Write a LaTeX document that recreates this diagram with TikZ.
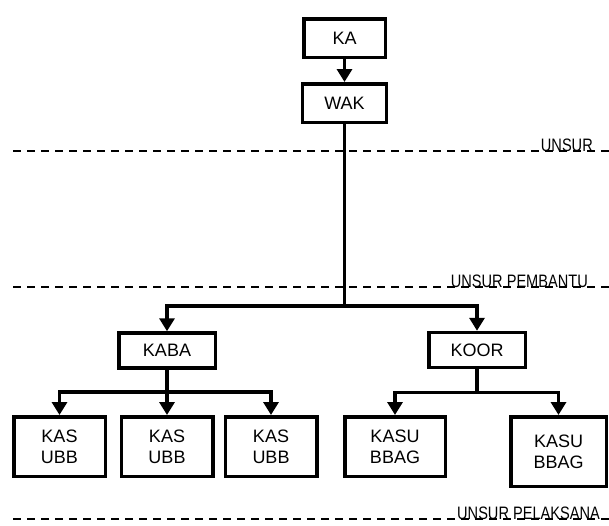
\documentclass[tikz,border=0pt]{standalone}
\usepackage{fontspec}
\usepackage{graphicx}
\usepackage{tikz}
\usetikzlibrary{arrows.meta, positioning}
\setmainfont{Liberation Sans}

\begin{document}
\begin{tikzpicture}[
    x=1pt, y=-1pt,
    unit/.style={draw=black, line width=3.5pt, inner sep=0pt, align=center,
        font=\fontsize{18}{21}\selectfont},
    small/.style={unit, minimum width=84pt, minimum height=38.5pt},
    mid/.style={unit, minimum width=96.5pt, minimum height=35pt},
    low/.style={unit, minimum width=91.5pt, minimum height=59.5pt},
    conn/.style={line width=3.5pt},
    arr/.style={conn, -{Triangle[length=13pt, width=15pt]}},
    sep/.style={line width=2.2pt, dash pattern=on 8pt off 6pt},
    seplabel/.style={anchor=base east, inner sep=0pt,
        font=\fontsize{18}{20}\selectfont}
]
\useasboundingbox (0,0) rectangle (609,525);

% === Pimpinan ===
\node[small, minimum width=81.5pt] (ka) at (344.5, 38) {KA};
\node[small] (wak) at (344.5, 103) {WAK};
\draw[arr] (ka) -- (wak);

% === Separators ===
\node[seplabel] (l1) at (593, 151) {\scalebox{0.81}[1]{UNSUR}};
\draw[sep] (13, 151) -- (609, 151);
\node[seplabel] (l2) at (588, 287) {\scalebox{0.81}[1]{UNSUR PEMBANTU}};
\draw[sep] (13, 287) -- (609, 287);
\node[seplabel] (l3) at (600, 519) {\scalebox{0.81}[1]{UNSUR PELAKSANA}};
\draw[sep] (13, 519) -- (609, 519);

% === Level 2 ===
\node[mid] (kaba) at (167, 350.5) {KABA};
\node[mid] (koor) at (477, 350) {KOOR};

\coordinate (bus) at (344.5, 306);
\draw[conn] (wak) -- (bus);
\draw[arr] (bus) -| (kaba);
\draw[arr] (bus) -| (koor);

% === Level 3 ===
\node[low] (kas1) at (59.5, 446.5) {KAS\\UBB};
\node[low] (kas2) at (167, 446.5) {KAS\\UBB};
\node[low] (kas3) at (271, 446.5) {KAS\\UBB};
\node[low, minimum width=100.5pt] (kasu1) at (395, 446.5) {KASU\\BBAG};
\node[low, minimum width=95.5pt, minimum height=69.5pt] (kasu2) at (558.5, 451.5) {KASU\\BBAG};

\coordinate (busA) at (167, 392);
\draw[conn] (kaba) -- (busA);
\draw[arr] (busA) -| (kas1);
\draw[arr] (busA) -- (kas2);
\draw[arr] (busA) -| (kas3);

\coordinate (busB) at (477, 392.5);
\draw[conn] (koor) -- (busB);
\draw[arr] (busB) -| (kasu1);
\draw[arr] (busB) -| (kasu2);
\end{tikzpicture}
\end{document}
